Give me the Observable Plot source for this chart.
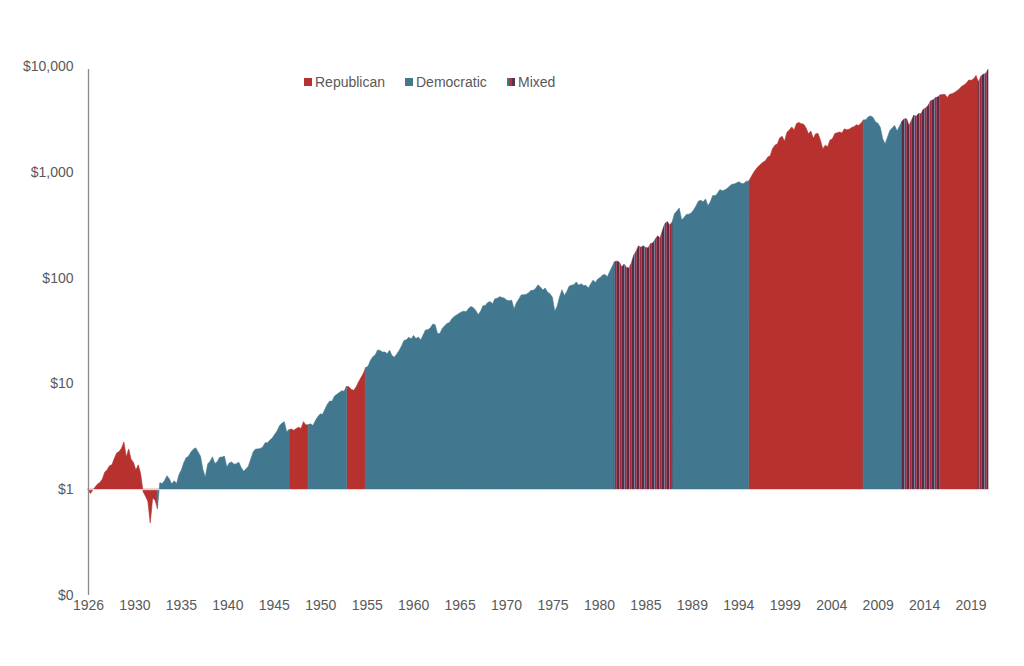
<!DOCTYPE html>
<html>
<head>
<meta charset="utf-8">
<script src="https://cdn.jsdelivr.net/npm/d3@7"></script>
<script src="https://cdn.jsdelivr.net/npm/@observablehq/plot@0.6"></script>
<style>
  body { margin: 0; background: #fff; font-family: "Liberation Sans", Arial, sans-serif; }
  #wrap { position: relative; width: 1024px; height: 666px; }
  .item { position: absolute; top: 74px; display: flex; align-items: center; font-size: 14px; color: #595959; height: 16px; }
  .sw { width: 7.5px; height: 7.5px; margin-right: 3.5px; }
</style>
</head>
<body>
<div id="wrap">
  <div id="chart"></div>
  <div id="legend"></div>
</div>
<script>
// ---- Data ----
const startYear = 1926;          // first point = start of 1926, then one value per quarter end
const quarterlyValues = [
  1.00,
  0.91, 0.98, 1.05, 1.12,   // 1926
  1.16, 1.25, 1.45, 1.53,   // 1927
  1.67, 1.70, 1.96, 2.20,   // 1928
  2.27, 2.44, 2.80, 2.02,   // 1929
  2.40, 1.92, 1.79, 1.52,   // 1930
  1.70, 1.40, 0.95, 0.86,   // 1931
  0.77, 0.48, 0.82, 0.79,   // 1932
  0.66, 1.15, 1.13, 1.21,   // 1933
  1.34, 1.25, 1.12, 1.20,   // 1934
  1.13, 1.37, 1.52, 1.78,   // 1935
  1.98, 2.05, 2.25, 2.38,   // 1936
  2.46, 2.25, 2.05, 1.54,   // 1937
  1.30, 1.73, 1.84, 2.02,   // 1938
  1.75, 1.82, 2.00, 2.01,   // 1939
  2.05, 1.62, 1.77, 1.81,   // 1940
  1.72, 1.74, 1.80, 1.60,   // 1941
  1.48, 1.55, 1.65, 1.93,   // 1942
  2.25, 2.40, 2.40, 2.43,   // 1943
  2.50, 2.75, 2.75, 2.91,   // 1944
  3.05, 3.30, 3.55, 3.97,   // 1945
  4.20, 4.35, 3.50, 3.65,   // 1946
  3.70, 3.60, 3.75, 3.85,   // 1947
  3.75, 4.35, 4.05, 4.07,   // 1948
  4.15, 4.00, 4.45, 4.84,   // 1949
  5.15, 5.10, 5.70, 6.36,   // 1950
  6.80, 6.80, 7.60, 7.89,   // 1951
  8.20, 8.50, 8.45, 9.34,   // 1952
  9.30, 8.75, 8.60, 9.24,   // 1953
  10.3, 11.3, 12.4, 14.1,   // 1954
  14.5, 16.5, 17.9, 18.6,   // 1955
  20.7, 20.5, 19.8, 19.8,   // 1956
  19.1, 20.6, 18.3, 17.7,   // 1957
  19.0, 20.5, 22.6, 25.4,   // 1958
  25.8, 27.3, 26.3, 28.4,   // 1959
  26.5, 27.4, 25.7, 28.6,   // 1960
  32.0, 32.2, 33.4, 36.3,   // 1961
  36.0, 29.6, 29.6, 33.1,   // 1962
  35.0, 36.8, 37.6, 40.8,   // 1963
  42.9, 44.3, 45.9, 47.4,   // 1964
  48.2, 47.5, 51.1, 53.3,   // 1965
  51.9, 49.0, 44.6, 48.0,   // 1966
  54.1, 54.6, 58.1, 59.4,   // 1967
  56.6, 63.0, 63.8, 66.0,   // 1968
  64.9, 63.7, 61.0, 60.4,   // 1969
  61.2, 50.6, 57.8, 62.8,   // 1970
  68.6, 68.7, 69.4, 71.7,   // 1971
  75.4, 75.8, 79.0, 85.4,   // 1972
  81.6, 76.2, 79.6, 72.8,   // 1973
  70.4, 65.2, 48.2, 53.6,   // 1974
  65.7, 76.7, 67.8, 73.5,   // 1975
  83.0, 84.8, 85.8, 91.0,   // 1976
  84.5, 87.6, 84.1, 84.5,   // 1977
  79.6, 86.8, 94.6, 90.1,   // 1978
  97.1, 100.0, 106.0, 106.7, // 1979
  101.6, 114.6, 127.6, 141.3, // 1980
  143.2, 139.9, 125.8, 134.4, // 1981
  124.8, 123.0, 137.5, 163.2, // 1982
  178.5, 199.5, 193.2, 200.0, // 1983
  192.4, 190.8, 209.5, 212.5, // 1984
  231.2, 248.0, 236.8, 280.0, // 1985
  324.5, 338.2, 314.8, 332.3, // 1986
  401.4, 425.7, 453.8, 349.8, // 1987
  370.4, 395.4, 397.9, 407.9, // 1988
  436.2, 475.3, 526.7, 537.0, // 1989
  520.7, 553.0, 476.9, 520.4, // 1990
  596.6, 595.4, 627.4, 679.0, // 1991
  661.6, 674.6, 696.0, 730.7, // 1992
  762.6, 766.6, 786.3, 804.3, // 1993
  773.8, 777.1, 815.1, 814.9, // 1994
  894.2, 979.4, 1057.2, 1120.9, // 1995
  1181.1, 1234.1, 1272.2, 1378.3, // 1996
  1415.3, 1662.4, 1787.0, 1838.1, // 1997
  2094.4, 2163.6, 1948.5, 2363.4, // 1998
  2481.3, 2656.0, 2490.2, 2860.7, // 1999
  2926.3, 2848.9, 2821.2, 2600.4, // 2000
  2292.1, 2426.2, 2070.0, 2291.3, // 2001
  2297.6, 1989.8, 1646.0, 1784.9, // 2002
  1728.7, 1994.8, 2047.6, 2296.7, // 2003
  2335.7, 2376.2, 2331.8, 2546.7, // 2004
  2491.9, 2526.5, 2617.6, 2671.5, // 2005
  2784.2, 2744.2, 2900.0, 3093.6, // 2006
  3112.6, 3307.5, 3374.5, 3263.6, // 2007
  2955.6, 2875.0, 2634.0, 2056.1, // 2008
  1829.6, 2121.6, 2453.0, 2600.3, // 2009
  2739.4, 2424.1, 2693.1, 2992.0, // 2010
  3170.0, 3172.5, 2733.6, 3054.9, // 2011
  3439.3, 3345.5, 3558.2, 3543.8, // 2012
  3910.4, 4023.0, 4234.7, 4691.5, // 2013
  4776.5, 5026.6, 5083.6, 5333.6, // 2014
  5385.0, 5397.5, 5050.2, 5407.3, // 2015
  5479.5, 5611.8, 5827.4, 6054.3, // 2016
  6421.8, 6615.8, 6911.8, 7376.1, // 2017
  7313.8, 7564.1, 8147.5, 7052.7, // 2018
  8015.3, 8360.6, 8497.9, 9273.8  // 2019
];

// Control periods
const regimeStart = [1926, 1933.25, 1947, 1949, 1953, 1955, 1981, 1987, 1995, 2007, 2011, 2015, 2019];
const regimeEnd   = [1933.25, 1947, 1949, 1953, 1955, 1981, 1987, 1995, 2007, 2011, 2015, 2019, 2020];
const regimeParty = ["Republican", "Democratic", "Republican", "Democratic", "Republican", "Democratic",
                     "Mixed", "Democratic", "Republican", "Democratic", "Mixed", "Republican", "Mixed"];

const legendNames = ["Republican", "Democratic", "Mixed"];
const legendX = [304, 405, 507];

// Axis ticks
const xTickLabels = ["1926", "1930", "1935", "1940", "1945", "1950", "1955", "1960", "1965", "1970",
                     "1975", "1980", "1985", "1989", "1994", "1999", "2004", "2009", "2014", "2019"];
const xTickStepYears = 4.8516;
const yTickValues = [0.1, 1, 10, 100, 1000, 10000];
const yTickLabels = ["$0", "$1", "$10", "$100", "$1,000", "$10,000"];

// ---- Build tables ----
const points = quarterlyValues.map((v, i) => ({ t: startYear + i / 4, v }));
const rows = [];
regimeStart.forEach((s, k) => {
  points.filter(p => p.t >= s - 1e-9 && p.t <= regimeEnd[k] + 1e-9)
        .forEach(p => rows.push({ t: p.t, v: p.v, seg: k, party: regimeParty[k] }));
});

const fills = { Republican: "#b7312f", Democratic: "#41788f", Mixed: "url(#mixedStripes)" };
const xTickPositions = xTickLabels.map((_, i) => startYear + i * xTickStepYears);
const xLabelMap = new Map(xTickPositions.map((p, i) => [p, xTickLabels[i]]));
const yLabelMap = new Map(yTickValues.map((v, i) => [v, yTickLabels[i]]));

const chart = Plot.plot({
  width: 1024,
  height: 666,
  marginLeft: 88,
  marginRight: 36,
  marginTop: 66,
  marginBottom: 71,
  style: { fontFamily: "'Liberation Sans', Arial, sans-serif", fontSize: "14px", color: "#595959", background: "white", overflow: "visible" },
  x: { domain: [1926, 2020], ticks: xTickPositions, tickFormat: d => xLabelMap.get(d), tickSize: 0, tickPadding: 5, label: null },
  y: { type: "log", domain: [0.1, 10000], ticks: yTickValues, tickFormat: d => yLabelMap.get(d), tickSize: 0, tickPadding: 15, label: null },
  marks: [
    ...legendNames.map(p => Plot.areaY(rows.filter(r => r.party === p), {
      x: "t", y1: 1, y2: "v", z: "seg", fill: fills[p], stroke: fills[p], strokeWidth: 0.6, curve: "linear"
    })),
    Plot.ruleY([1], { stroke: "#e4e4e4", strokeWidth: 1 }),
    Plot.ruleX([1926], { y1: 0.1, y2: 10000, stroke: "#8c8c8c", strokeWidth: 1.3, insetBottom: -3 })
  ]
});

// stripe pattern for mixed control
const ns = "http://www.w3.org/2000/svg";
const defs = document.createElementNS(ns, "defs");
const pat = document.createElementNS(ns, "pattern");
pat.setAttribute("id", "mixedStripes");
pat.setAttribute("patternUnits", "userSpaceOnUse");
pat.setAttribute("width", "5");
pat.setAttribute("height", "10");
[["0", "1.8", "#a3263a"], ["1.8", "2.7", "#582c44"], ["4.5", "0.5", "#4a6686"]].forEach(([x, w, c]) => {
  const r = document.createElementNS(ns, "rect");
  r.setAttribute("x", x); r.setAttribute("y", "0");
  r.setAttribute("width", w); r.setAttribute("height", "10");
  r.setAttribute("fill", c);
  pat.appendChild(r);
});
defs.appendChild(pat);
chart.insertBefore(defs, chart.firstChild);
document.getElementById("chart").appendChild(chart);

// legend
const legend = document.getElementById("legend");
const swatchBg = {
  Republican: "#b7312f",
  Democratic: "#41788f",
  Mixed: "linear-gradient(to right, #41788f 0 2.5px, #b7312f 2.5px 5px, #5c3149 5px 7.5px)"
};
legendNames.forEach((name, i) => {
  const item = document.createElement("div");
  item.className = "item";
  item.style.left = legendX[i] + "px";
  const sw = document.createElement("span");
  sw.className = "sw";
  sw.style.background = swatchBg[name];
  const tx = document.createElement("span");
  tx.textContent = name;
  item.appendChild(sw); item.appendChild(tx);
  legend.appendChild(item);
});
</script>
</body>
</html>
